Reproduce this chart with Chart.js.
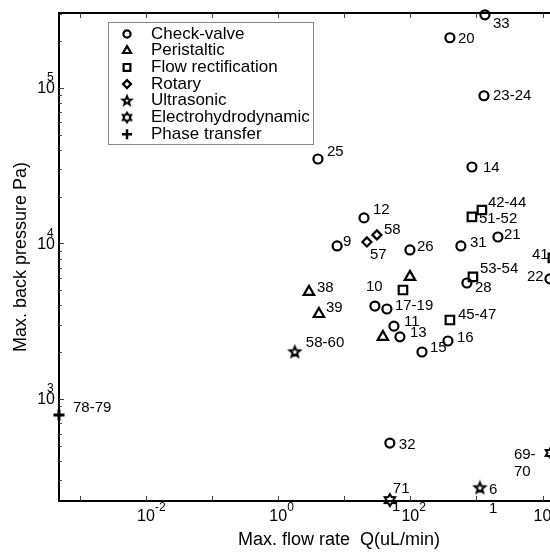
<!DOCTYPE html>
<html>
<head>
<meta charset="utf-8">
<script src="https://cdn.jsdelivr.net/npm/chart.js@4.4.0/dist/chart.umd.min.js"></script>
<style>
  html, body { margin: 0; padding: 0; background: #fff; overflow: hidden; }
  #wrap { width: 600px; height: 553px; }
</style>
</head>
<body>
<div id="wrap"><canvas id="pumps" width="600" height="553"></canvas></div>
<script>
// legend order
const pumpTypes = ['Check-valve', 'Peristaltic', 'Flow rectification', 'Rotary', 'Ultrasonic', 'Electrohydrodynamic', 'Phase transfer'];

// flow rate in uL/min, back pressure in Pa
const checkRefs  = ['33', '20', '23-24', '25', '14', '12', '9', '26', '31', '21', '22', '28', '10', '17-19', '11', '13', '15', '16', '32'];
const checkFlow  = [1345, 397, 1300, 4.0, 855, 19.9, 7.8, 98.6, 582, 2115, 12950, 718, 29.1, 44.2, 56.5, 69.6, 150, 371, 49];
const checkPress = [295000, 210000, 89000, 34900, 31000, 14600, 9640, 9080, 9640, 11000, 5920, 5570, 3960, 3790, 2940, 2510, 2005, 2360, 521];

const periRefs  = ['38', '39', '', ''];
const periFlow  = [2.92, 4.14, 38.4, 98.6];
const periPress = [4880, 3520, 2510, 6100];

const rectRefs  = ['42-44', '51-52', '53-54', '', '45-47', '41'];
const rectFlow  = [1210, 855, 885, 77.3, 397, 14350];
const rectPress = [16400, 14800, 6100, 5020, 3220, 8070];

const rotRefs  = ['58', '57'];
const rotFlow  = [31.2, 22.0];
const rotPress = [11350, 10230];

const ultraRefs  = ['58-60', '6'];
const ultraFlow  = [1.79, 1130];
const ultraPress = [2005, 268];

const ehdRefs  = ['71', '69-\n70'];
const ehdFlow  = [49, 13400];
const ehdPress = [224, 450];

const phaseRefs  = ['78-79'];
const phaseFlow  = [4.83e-4];
const phasePress = [789];

// axis ranges and tick decades
const xRange = [4.83e-4, 15450];
const yRange = [221, 303000];
const xLabelDecades = [-2, 0, 2, 4];
const yLabelDecades = [3, 4, 5];

// label placement relative to its marker (dx, dy)
const nudge = {
  '33': [8, 9], '20': [8, 1], '23-24': [9, 0], '25': [9, -7], '14': [11, 1],
  '12': [9, -8], '9': [6, -4], '26': [7, -3], '31': [9, -3], '21': [6, -2],
  '22': [-23, -2], '28': [8, 5], '10': [-9, -19], '17-19': [8, -3], '11': [10, -4],
  '13': [10, -4], '15': [8, -4], '16': [9, -3], '32': [9, 2],
  '38': [8, -4], '39': [7, -6],
  '42-44': [6, -7], '51-52': [7, 2], '53-54': [7, -8], '45-47': [8, -5], '41': [-21, -3],
  '58': [7, -5], '57': [3, 13], '58-60': [11, -9], '6': [9, 2],
  '71': [3, -11], '69-\n70': [-37, 2], '78-79': [14, -7]
};

const FONT = '"Liberation Sans", Arial, Helvetica, sans-serif';

function starCanvas(points, outer, inner, lw) {
  const size = Math.ceil(outer * 2 + lw * 2 + 2);
  const c = document.createElement('canvas');
  c.width = size; c.height = size;
  const g = c.getContext('2d');
  g.translate(size / 2, size / 2);
  g.beginPath();
  for (let i = 0; i < points * 2; i++) {
    const r = i % 2 ? inner : outer;
    const a = -Math.PI / 2 + i * Math.PI / points;
    if (i) g.lineTo(Math.cos(a) * r, Math.sin(a) * r);
    else g.moveTo(Math.cos(a) * r, Math.sin(a) * r);
  }
  g.closePath();
  g.lineWidth = lw;
  g.strokeStyle = '#000';
  g.stroke();
  return c;
}

const star5 = starCanvas(5, 5.5, 2.4, 2);
const star6 = starCanvas(6, 6, 3.46, 2);
const star5Small = starCanvas(5, 4.6, 2, 2);
const star6Small = starCanvas(6, 4.8, 2.8, 2);

function pts(refs, flow, press) {
  return flow.map((f, i) => ({ x: f, y: press[i], ref: refs[i] }));
}

const markers = [
  { style: 'circle', r: 4.5, bw: 2.2, legend: 3.6 },
  { style: 'triangle', r: 6, bw: 2.2, legend: 4.6 },
  { style: 'rect', r: 6, bw: 2.2, legend: 4.8 },
  { style: 'rectRot', r: 4.5, bw: 2.2, legend: 4 },
  { style: star5, r: 6, bw: 2, legendImg: star5Small },
  { style: star6, r: 6, bw: 2, legendImg: star6Small },
  { style: 'cross', r: 5.5, bw: 3, legend: 5 }
];

const series = [
  pts(checkRefs, checkFlow, checkPress),
  pts(periRefs, periFlow, periPress),
  pts(rectRefs, rectFlow, rectPress),
  pts(rotRefs, rotFlow, rotPress),
  pts(ultraRefs, ultraFlow, ultraPress),
  pts(ehdRefs, ehdFlow, ehdPress),
  pts(phaseRefs, phaseFlow, phasePress)
];

const datasets = series.map((data, i) => ({
  label: pumpTypes[i],
  data: data,
  pointStyle: markers[i].style,
  pointRadius: markers[i].r,
  pointBorderWidth: markers[i].bw,
  pointBorderColor: '#000',
  pointBackgroundColor: 'rgba(0,0,0,0)',
  clip: false
}));

function sup(ctx, base, exp, x, y, expX, expY) {
  ctx.font = '16px ' + FONT;
  ctx.textBaseline = 'middle';
  ctx.fillText(base, x, y);
  ctx.font = '12px ' + FONT;
  ctx.textAlign = 'left';
  ctx.fillText(exp, expX, expY);
}

const decor = {
  id: 'decor',
  beforeDatasetsDraw(chart) {
    const { ctx, chartArea: a, scales: { x, y } } = chart;
    ctx.save();
    ctx.strokeStyle = '#000';
    ctx.lineWidth = 2;
    ctx.strokeRect(a.left, a.top, a.right - a.left, a.bottom - a.top);

    // inward ticks
    ctx.lineWidth = 1;
    ctx.strokeStyle = '#444';
    for (let d = -4; d <= 5; d++) {
      const px = Math.round(x.getPixelForValue(Math.pow(10, d))) + 0.5;
      if (px < a.left + 2 || px > a.right - 2) continue;
      ctx.beginPath();
      ctx.moveTo(px, a.bottom); ctx.lineTo(px, a.bottom - 5);
      ctx.moveTo(px, a.top); ctx.lineTo(px, a.top + 5);
      ctx.stroke();
    }
    for (let d = 2; d <= 5; d++) {
      for (let m = 1; m <= 9; m++) {
        const v = m * Math.pow(10, d);
        if (v <= yRange[0] || v >= yRange[1]) continue;
        const py = Math.round(y.getPixelForValue(v)) + 0.5;
        const len = m === 1 ? 5 : 3;
        ctx.beginPath();
        ctx.moveTo(a.left, py); ctx.lineTo(a.left + len, py);
        ctx.moveTo(a.right, py); ctx.lineTo(a.right - len, py);
        ctx.stroke();
      }
    }

    // tick labels
    ctx.fillStyle = '#000';
    xLabelDecades.forEach(d => {
      const px = x.getPixelForValue(Math.pow(10, d));
      ctx.textAlign = 'center';
      sup(ctx, '10', String(d), px, 517, px + 9, 508);
    });
    yLabelDecades.forEach(d => {
      const py = y.getPixelForValue(Math.pow(10, d));
      ctx.textAlign = 'right';
      sup(ctx, '10', String(d), a.left - 4, py + 1, a.left - 12, py - 10);
    });

    // axis titles
    ctx.font = '18px ' + FONT;
    ctx.textAlign = 'center';
    ctx.textBaseline = 'middle';
    ctx.fillText('Max. flow rate  Q(uL/min)', 339, 540);
    ctx.save();
    ctx.translate(21, 257);
    ctx.rotate(-Math.PI / 2);
    ctx.fillText('Max. back pressure Pa)', 0, 0);
    ctx.restore();
    ctx.restore();
  },
  afterDatasetsDraw(chart) {
    const { ctx } = chart;
    ctx.save();
    ctx.fillStyle = '#000';
    ctx.font = '15px ' + FONT;
    ctx.textAlign = 'left';
    ctx.textBaseline = 'middle';
    chart.data.datasets.forEach((ds, i) => {
      chart.getDatasetMeta(i).data.forEach((el, j) => {
        const ref = ds.data[j].ref;
        if (!ref) return;
        const [dx, dy] = nudge[ref] || [8, -3];
        ref.split('\n').forEach((line, k) => {
          ctx.fillText(line, el.x + dx, el.y + dy + k * 17);
        });
      });
    });
    // stray partial labels cut by the axis
    ctx.fillText('1', 489, 509);
    ctx.fillText('1', 392, 507);

    // legend
    const lx = 108, ly = 22, lw = 205, lh = 122;
    ctx.fillStyle = '#fff';
    ctx.fillRect(lx, ly, lw, lh);
    ctx.strokeStyle = '#888';
    ctx.lineWidth = 1;
    ctx.strokeRect(lx + 0.5, ly + 0.5, lw, lh);
    ctx.fillStyle = '#000';
    ctx.font = '17px ' + FONT;
    pumpTypes.forEach((name, i) => {
      const cy = 34 + i * 16.7;
      const mk = markers[i];
      ctx.strokeStyle = '#000';
      ctx.fillStyle = 'rgba(0,0,0,0)';
      ctx.lineWidth = mk.style === 'cross' ? 2.5 : 2.2;
      const opts = { pointStyle: mk.legendImg || mk.style, radius: mk.legend || 5, borderWidth: 2, rotation: 0 };
      Chart.helpers.drawPoint(ctx, opts, 127, cy);
      ctx.fillStyle = '#000';
      ctx.fillText(name, 151, cy);
    });
    ctx.restore();
  }
};

new Chart(document.getElementById('pumps'), {
  type: 'scatter',
  data: { datasets: datasets },
  options: {
    responsive: false,
    animation: false,
    events: [],
    layout: { padding: { top: 13, right: 45, left: 0, bottom: 0 } },
    plugins: { legend: { display: false }, tooltip: { enabled: false } },
    scales: {
      x: {
        type: 'logarithmic', min: xRange[0], max: xRange[1],
        ticks: { display: false }, grid: { display: false }, border: { display: false },
        afterFit: s => { s.height = 52; }
      },
      y: {
        type: 'logarithmic', min: yRange[0], max: yRange[1],
        ticks: { display: false }, grid: { display: false }, border: { display: false },
        afterFit: s => { s.width = 59; }
      }
    }
  },
  plugins: [decor]
});
</script>
</body>
</html>
